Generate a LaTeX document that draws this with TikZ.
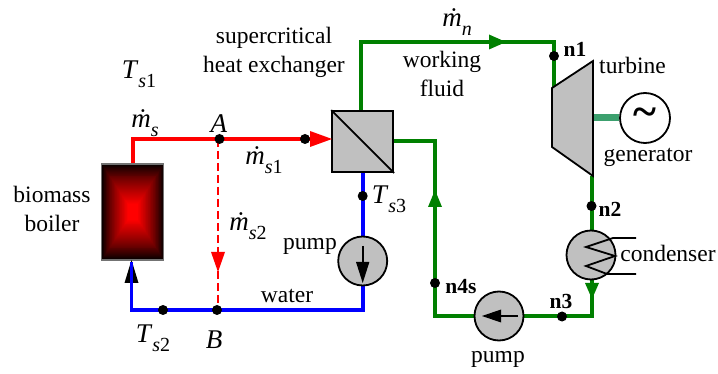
\documentclass[tikz,border=0pt]{standalone}
\usepackage{fontspec}
\setmainfont{Liberation Serif}
\usetikzlibrary{arrows.meta}
\definecolor{pipegreen}{RGB}{0,128,0}
\definecolor{pipered}{RGB}{255,0,0}
\definecolor{pipeblue}{RGB}{0,0,255}
\definecolor{shaftgreen}{RGB}{60,160,110}
\definecolor{equip}{RGB}{192,192,192}
\newcommand{\sbs}[1]{\raisebox{-0.32em}{\fontsize{20}{24}\selectfont #1}}
\newcommand{\qty}[2]{\textit{#1}\sbs{#2}}
\tikzset{
  x=1pt,y=-1pt,
  lab/.style={inner sep=0pt,font=\fontsize{23.5}{29}\selectfont,align=center},
  mathlab/.style={inner sep=0pt,font=\fontsize{27}{31}\selectfont},
  bold/.style={inner sep=0pt,font=\fontsize{21.5}{25}\selectfont\bfseries},
  pipe/.style={line width=3.6pt,line join=miter},
  grn/.style={pipe,draw=pipegreen},
  rd/.style={pipe,draw=pipered},
  blu/.style={pipe,draw=pipeblue},
  junction/.style={circle,fill=black,inner sep=0pt,minimum size=10pt},
  equipment/.style={draw=black,fill=equip,line width=1.8pt},
  machine/.style={equipment,circle,inner sep=0pt,minimum size=49pt},
}
\begin{document}
\begin{tikzpicture}
\useasboundingbox (0,0) rectangle (718,374);
% boiler gradient
\foreach \i in {0,...,49}{
  \pgfmathsetmacro{\f}{1-\i/50}
  \pgfmathsetmacro{\c}{min(100,100*(\i/42)^0.8)}
  \fill[pipered!\c!black] ({132.8-31*\f},{212-48*\f}) rectangle ({132.8+31*\f},{212+48*\f});
}
\node[draw=black!55,line width=1.2pt,minimum width=62pt,minimum height=96pt,inner sep=0pt] (boiler) at (132.8,212) {};
% corners
\coordinate (redcorner) at (132.8,139);
\coordinate (redend) at (326,139);
\coordinate (bluecornerl) at (131.5,310);
\coordinate (bluecornerr) at (362.7,310);
\coordinate (gup) at (361,111);
\coordinate (gtl) at (361,42);
\coordinate (gtr) at (554,42);
\coordinate (gt) at (554,90);
\coordinate (gb) at (592,176);
\coordinate (gbr) at (592,316);
\coordinate (gbl) at (435,316);
\coordinate (gtop) at (435,141);
\coordinate (ghx) at (393,141);
% pipes
\draw[rd] (boiler.north) -- (redcorner) -- (redend);
\draw[pipered,line width=2.2pt,dash pattern=on 8pt off 4pt] (218,139) -- (218,310);
\draw[blu] (362.7,172) -- (bluecornerr) -- (bluecornerl) -- (131.5,262);
\draw[grn] (gup) -- (gtl) -- (gtr) -- (gt);
\draw[grn] (gb) -- (gbr) -- (gbl) -- (gtop) -- (ghx);
\node[equipment,minimum size=61pt,inner sep=0pt] (hx) at (362.7,141.5) {};
\draw[line width=1.8pt] (hx.north west) -- (hx.south east);
% arrowheads
\fill[pipered] (332,139) -- (310,131) -- (310,147) -- cycle;
\fill[pipered] (218,272) -- (211,252) -- (225,252) -- cycle;
\fill[black] (131.5,260) -- (124.5,283) -- (138.5,283) -- cycle;
\draw[pipeblue,line width=3.6pt] (131.5,262) -- (131.5,300);
\fill[pipegreen] (506,42) -- (489,34.5) -- (489,49.5) -- cycle;
\fill[pipegreen] (435,190) -- (428,207) -- (442,207) -- cycle;
\fill[pipegreen] (592,299) -- (585,283) -- (599,283) -- cycle;
% turbine and generator
\draw[equipment,line join=miter] (552,88) -- (593,61) -- (593,176) -- (552,147) -- cycle;
\coordinate (turbineshaft) at (593.9,118);
\node[circle,draw=black,fill=white,line width=1.8pt,inner sep=0pt,minimum size=50pt,font=\fontsize{44}{44}\selectfont\bfseries] (gen) at (645,118) {\raisebox{2pt}{\textasciitilde}};
\draw[shaftgreen,line width=7pt] (turbineshaft) -- (gen.west);
% machines
\node[machine] (pumpa) at (362.7,261) {};
\draw[line width=1.8pt] (362.7,246) -- (362.7,270);
\fill[black] (362.7,283) -- (356,262) -- (369.4,262) -- cycle;
\node[machine] (pumpb) at (499,316) {};
\draw[line width=1.8pt] (518,316) -- (495,316);
\fill[black] (482,316) -- (501,309.5) -- (501,322.5) -- cycle;
\node[machine] (cond) at (591,255) {};
\draw[line width=1.8pt,line join=miter] (636,238) -- (613,238) -- (586,247) -- (615,256) -- (586,266) -- (607,274) -- (636,274);
% dots
\node[junction] (ja) at (219.5,139) {};
\node[junction] (jr) at (305,139) {};
\node[junction] (jb) at (217,310) {};
\node[junction] (jt) at (163,310) {};
\node[junction] (jts) at (362.7,196) {};
\node[junction] (jn1) at (554,56) {};
\node[junction] (jn2) at (591.5,206) {};
\node[junction] (jn3) at (562,316.5) {};
\node[junction] (jn4) at (435,283) {};
% labels
\node[lab] (l1) at (52,209) {biomass\\boiler};
\node[lab] (l2) at (274,52) {supercritical\\heat exchanger};
\node[lab] (l3) at (442,74) {working\\fluid};
\node[lab] (l4) at (632.5,65) {turbine};
\node[lab] (l5) at (648,157) {generator};
\node[lab] (l6) at (668,253) {condenser};
\node[lab] (l7) at (310,246) {pump};
\node[lab] (l8) at (498,359) {pump};
\node[lab] (l9) at (287,296) {water};
\node[bold] (n1) at (575,49) {n1};
\node[bold] (n2) at (610,209) {n2};
\node[bold] (n3) at (561,301) {n3};
\node[bold] (n4) at (461,287) {n4s};
\node[mathlab] (ts1) at (139,74) {\qty{T}{\textit{s}1}};
\node[mathlab] (ms) at (145,123) {\qty{\.m}{\textit{s}}};
\node[mathlab] (pa) at (219,124) {\textit{A}};
\node[mathlab] (pb) at (214,340) {\textit{B}};
\node[mathlab] (ms1) at (264,160) {\qty{\.m}{\textit{s}1}};
\node[mathlab] (ms2) at (248,226) {\qty{\.m}{\textit{s}2}};
\node[mathlab] (ts2) at (153,338) {\qty{T}{\textit{s}2}};
\node[mathlab] (ts3) at (389,199) {\qty{T}{\textit{s}3}};
\node[mathlab] (mn) at (457,22) {\qty{\.m}{\textit{n}}};
\end{tikzpicture}
\end{document}
